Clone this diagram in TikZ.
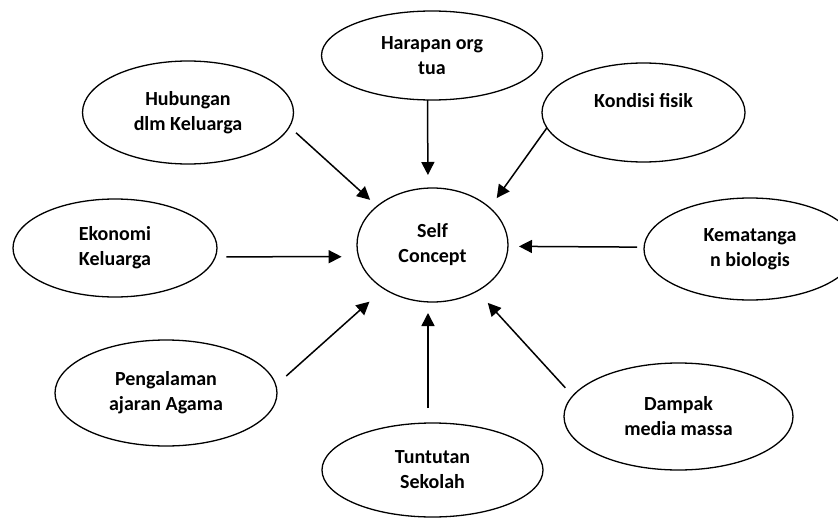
\documentclass[tikz,border=0pt]{standalone}
\usepackage{fontspec}
\setmainfont{Carlito}
\usetikzlibrary{shapes.geometric,arrows.meta}

\tikzset{
  faktor/.style={ellipse, draw, line width=1.3pt, outer sep=0pt, inner sep=0pt,
    align=center, font=\fontsize{20}{25}\selectfont\bfseries},
  panah/.style={-{Triangle[length=13pt,width=13pt]}, line width=1.5pt},
}

\begin{document}
\begin{tikzpicture}[x=1pt, y=-1pt]
\useasboundingbox (0,0) rectangle (838,519);

%% ---- Pusat: Self Concept ----
\node[faktor, minimum width=151pt, minimum height=114pt] (self) at (432.5,245) {Self\\ Concept};

%% ---- Faktor di atas ----
\node[faktor, minimum width=221pt, minimum height=89pt]  (harapan)  at (432,55.5)  {Harapan org\\ tua};
\node[faktor, minimum width=211pt, minimum height=103pt] (hubungan) at (188,112.5) {Hubungan\\ dlm Keluarga};
\node[faktor, minimum width=203pt, minimum height=99pt]  (kondisi)  at (643.5,112.5) {Kondisi fisik\\ ~};

%% ---- Faktor di kiri dan kanan ----
\node[faktor, minimum width=204pt, minimum height=98pt]  (ekonomi)    at (115,248) {Ekonomi\\ Keluarga};
\node[faktor, minimum width=212pt, minimum height=102pt] (kematangan) at (750,249) {Kematanga\\ n biologis};

%% ---- Faktor di bawah ----
\node[faktor, minimum width=222pt, minimum height=106pt] (pengalaman) at (166,393)   {Pengalaman\\ ajaran Agama};
\node[faktor, minimum width=229pt, minimum height=107pt] (dampak)     at (678.5,416.5) {Dampak\\ media massa};
\node[faktor, minimum width=221pt, minimum height=94pt]  (tuntutan)   at (432.5,470) {Tuntutan\\ Sekolah};

%% ---- Panah ke Self Concept ----
\draw[panah, shorten >=13pt] ([xshift=-4.5pt]harapan.south) -- ([xshift=-4.5pt]self.north);
\draw[panah, shorten <=9pt, shorten >=9.5pt] (hubungan.-8) -- (self.145);
\draw[panah, shorten >=12pt] (kondisi.189) -- (self.33);
\draw[panah, shorten <=11pt, shorten >=17pt] (ekonomi.-5) -- (self.189);
\draw[panah, shorten <=7pt, shorten >=11pt] (kematangan.179) -- (self.-1.5);
\draw[panah, shorten <=14pt, shorten >=19.5pt] (pengalaman.4) -- (self.222.6);
\draw[panah, shorten <=15pt, shorten >=11pt] ([xshift=-4.5pt]tuntutan.north) -- ([xshift=-4.5pt]self.south);
\draw[panah, shorten <=11pt, shorten >=16pt] (dampak.169) -- (self.-46);

\end{tikzpicture}
\end{document}
